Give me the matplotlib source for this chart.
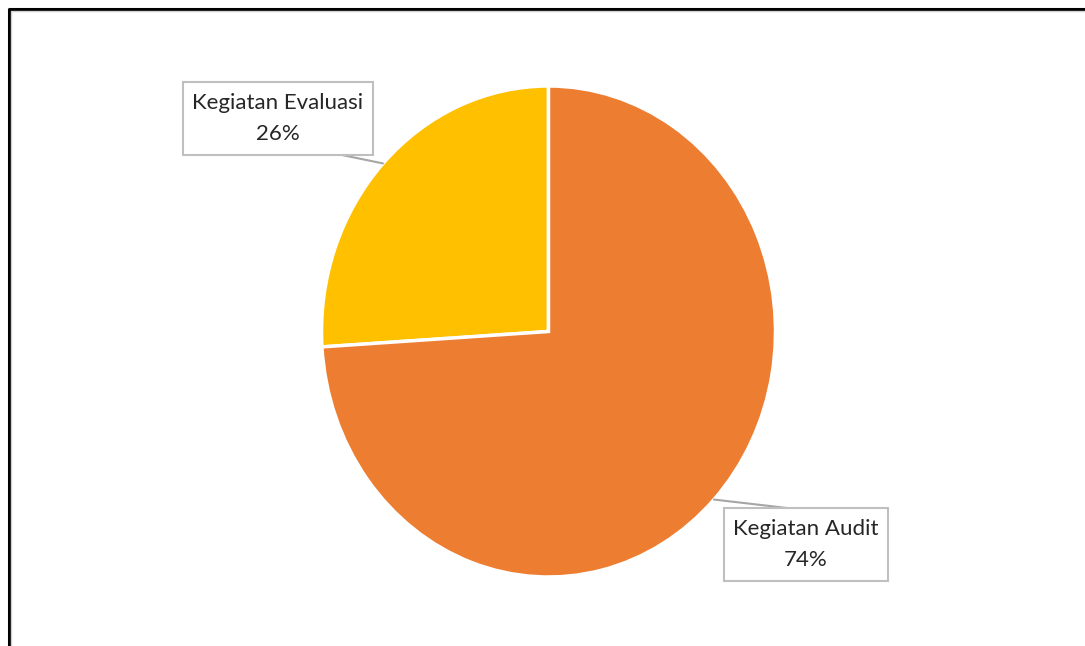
import matplotlib
matplotlib.use('Agg')
import numpy as np
import matplotlib.pyplot as plt
from matplotlib.patches import Rectangle
from matplotlib.lines import Line2D

labels = ["Kegiatan Evaluasi", "Kegiatan Audit"]
shares = [26, 74]
colors = ["#FFC000", "#ED7D31"]

W, H = 1085, 646
fig = plt.figure(figsize=(W / 100, H / 100), dpi=100)
plt.rcParams['font.family'] = ['Lato', 'DejaVu Sans']


def fx(px):
    return px / W


def fy(py):
    return 1 - py / H


# pie is slightly stretched vertically in the reference, keep aspect auto
ax = fig.add_axes([fx(321.5), fy(577), 454 / W, 491 / H])
wedges, _ = ax.pie(shares, colors=colors, startangle=90, counterclock=True,
                   radius=1, wedgeprops=dict(edgecolor="white", linewidth=2.5))
ax.set_xlim(-1, 1)
ax.set_ylim(-1, 1)
ax.set_aspect('auto')
ax.axis('off')

# label boxes (left, top, right, bottom in pixels) and leader start points
boxes = [(183, 82, 373, 155), (724, 508, 888, 581)]
leader_ends = [(342, 155), (787, 508)]

for w, lab, val, box, end in zip(wedges, labels, shares, boxes, leader_ends):
    ang = np.deg2rad((w.theta1 + w.theta2) / 2)
    x0, y0, x1, y1 = box
    fig.add_artist(Rectangle((fx(x0), fy(y1)), (x1 - x0) / W, (y1 - y0) / H,
                             transform=fig.transFigure, facecolor="white",
                             edgecolor="#BFBFBF", linewidth=1.5, zorder=3))
    ax.annotate("", xy=(np.cos(ang), np.sin(ang)), xycoords='data',
                xytext=(fx(end[0]), fy(end[1])), textcoords='figure fraction',
                arrowprops=dict(arrowstyle='-', color="#A6A6A6", lw=1.5,
                                shrinkA=0, shrinkB=0), zorder=2)
    cx = (x0 + x1) / 2
    fig.text(fx(cx), fy(y0 + 21), lab, ha='center', va='center',
             fontsize=16, color="#262626", zorder=4)
    fig.text(fx(cx), fy(y0 + 52), f"{val}%", ha='center', va='center',
             fontsize=16, color="#262626", zorder=4)

# frame around the chart (only top and left visible in the crop)
fig.add_artist(Line2D([fx(9), fx(9), 1], [0, fy(9), fy(9)],
                      transform=fig.transFigure, color="black", lw=2.2))
fig.add_artist(Line2D([fx(11), fx(11), 1], [0, fy(11), fy(11)],
                      transform=fig.transFigure, color="#D0D0D0", lw=1))

fig.savefig("out.png", dpi=100)
